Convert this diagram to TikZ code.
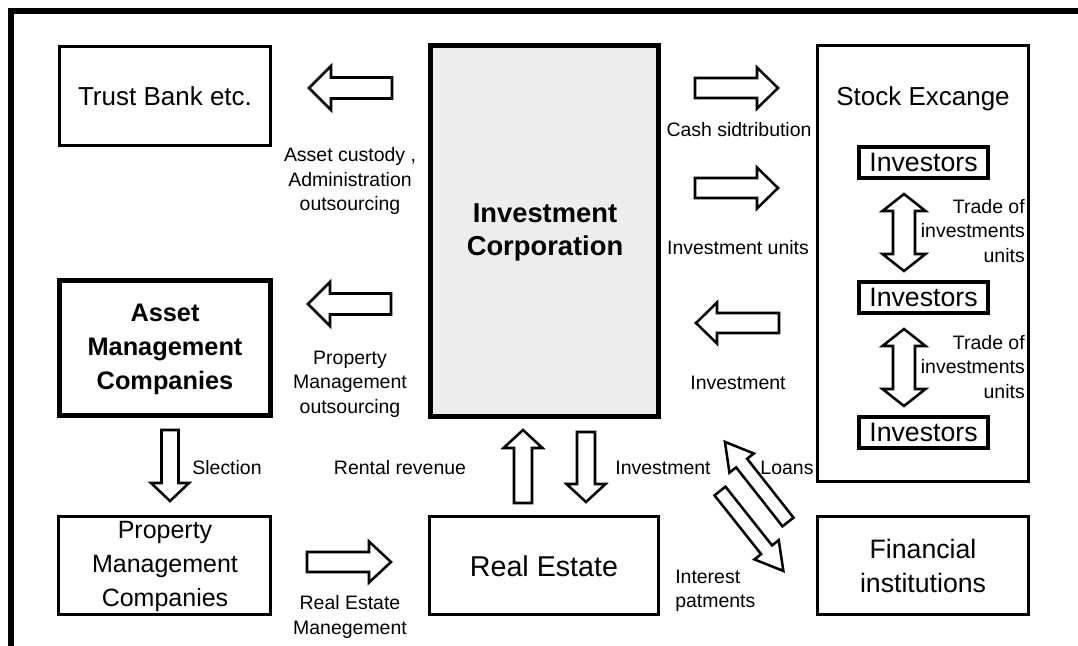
\documentclass[tikz,border=0pt]{standalone}
\usepackage{fontspec}
\setmainfont{Liberation Sans}
\usetikzlibrary{fit}
\begin{document}
\begin{tikzpicture}[x=0.75pt,y=-0.75pt,
  box/.style={draw,line width=2.3pt,inner sep=0pt,align=center},
  heavybox/.style={draw,line width=3.8pt,inner sep=0pt,align=center},
  invbox/.style={draw,line width=2.6pt,inner sep=0pt},
  invtxt/.style={font=\fontsize{20}{24}\selectfont},
  bigtxt/.style={font=\fontsize{19.5}{25.5}\selectfont},
  boldtxt/.style={font=\fontsize{19}{25.5}\selectfont\bfseries},
  lbl/.style={font=\fontsize{14.6}{18.4}\selectfont,align=center,inner sep=0pt},
  arrowline/.style={draw,line width=1.9pt,fill=white,line join=miter},
  pics/blockarrow/.style n args={4}{code={
    \path[arrowline] (0,-#2) -- ({#1-#4},-#2) -- ({#1-#4},-#3) -- (#1,0)
      -- ({#1-#4},#3) -- ({#1-#4},#2) -- (0,#2) -- cycle;}},
  pics/dblarrow/.style n args={4}{code={
    \path[arrowline] ({-#1/2},0) -- ({-#1/2+#4},-#3) -- ({-#1/2+#4},-#2)
      -- ({#1/2-#4},-#2) -- ({#1/2-#4},-#3) -- ({#1/2},0) -- ({#1/2-#4},#3)
      -- ({#1/2-#4},#2) -- ({-#1/2+#4},#2) -- ({-#1/2+#4},#3) -- cycle;}},
]
\useasboundingbox (0,0) rectangle (1078,646);
% outer frame
\draw[line width=4.5pt] (11,650) -- (11,11) -- (1082,11);

% boxes
\node[box,fit={(59.5,46.5)(270.5,145.5)}] (trust) {};
\node[bigtxt] (trusttxt) at (trust.center) {Trust Bank etc.};

\node[heavybox,fill=black!7,fit={(430.5,45.5)(658.5,416.5)}] (ic) {};
\node[font=\fontsize{20.5}{24.75}\selectfont\bfseries,align=center] (ictxt) at (545,232) {Investment\\Corporation};

\node[heavybox,fit={(59.5,280.5)(270.5,415.5)}] (am) {};
\node[boldtxt,align=center] (amtxt) at (165,349) {Asset\\Management\\Companies};

\node[box,fit={(58.5,516.5)(270.5,614.5)}] (pm) {};
\node[font=\fontsize{18.75}{25.5}\selectfont,align=center] (pmtxt) at (165,566) {Property\\Management\\Companies};

\node[box,fit={(429.5,516.5)(658.5,614.5)}] (re) {};
\node[font=\fontsize{21.5}{25}\selectfont] (retxt) at (544,566) {Real Estate};

\node[box,fit={(817.5,45.5)(1028.5,481.5)}] (se) {};
\node[bigtxt] (setxt) at (923,99) {Stock Excange};

\node[box,fit={(817.5,516.5)(1028.5,614.5)}] (fi) {};
\node[font=\fontsize{20}{25}\selectfont,align=center] (fitxt) at (923,566) {Financial\\institutions};

\node[invbox,fit={(859,147)(988,178)}] (inv1) {};
\node[invtxt] (inv1txt) at (inv1.center) {Investors};
\node[invbox,fit={(859,282)(988,313)}] (inv2) {};
\node[invtxt] (inv2txt) at (inv2.center) {Investors};
\node[invbox,fit={(859,417)(988,448)}] (inv3) {};
\node[invtxt] (inv3txt) at (inv3.center) {Investors};

% block arrows: {length}{shaft half}{head half}{head length}
\pic[rotate=180] at (392,88)  {blockarrow={83}{10.5}{22}{22}};
\pic[rotate=180] at (391,304) {blockarrow={83}{10.5}{22}{22}};
\pic at (695,88)              {blockarrow={83}{10}{20.5}{21}};
\pic at (695,188)             {blockarrow={83}{10}{20.5}{21}};
\pic[rotate=180] at (779,323) {blockarrow={83}{10}{20.5}{21}};
\pic at (307,562)             {blockarrow={84}{10}{20.5}{22}};
\pic[rotate=-90] at (170,430) {blockarrow={71}{8.5}{19}{18}};
\pic[rotate=90] at (523,503)  {blockarrow={73}{9}{19.5}{18}};
\pic[rotate=-90] at (586,432) {blockarrow={70}{9}{19.5}{18}};
\pic[rotate=128.2] at (788,522) {blockarrow={102}{7}{15.5}{27}};
\pic[rotate=-51.6] at (720,491) {blockarrow={102}{7}{15.5}{27}};
\pic[rotate=90] at (904,232.5) {dblarrow={77}{11}{21.5}{17}};
\pic[rotate=90] at (904,367.5) {dblarrow={77}{11}{21.5}{17}};

% labels
\node[lbl] (l1) at (350,181) {Asset custody ,\\Administration\\outsourcing};
\node[lbl] (l2) at (350,384) {Property\\Management\\outsourcing};
\node[lbl] (l3) at (739,130) {Cash sidtribution};
\node[lbl] (l4) at (738,248) {Investment units};
\node[lbl] (l5) at (738,383) {Investment};
\node[lbl,align=right,anchor=east] (l6) at (1025,231) {Trade of\\investments\\units};
\node[lbl,align=right,anchor=east] (l7) at (1025,367) {Trade of\\investments\\units};
\node[lbl] (l8) at (227,468) {Slection};
\node[lbl] (l9) at (400,468) {Rental revenue};
\node[lbl] (l10) at (663,468) {Investment};
\node[lbl] (l11) at (787,468) {Loans};
\node[lbl] (l12) at (350,617) {Real Estate\\Manegement};
\node[lbl,align=left,anchor=west] (l13) at (675,591) {Interest\\patments};
\end{tikzpicture}
\end{document}
